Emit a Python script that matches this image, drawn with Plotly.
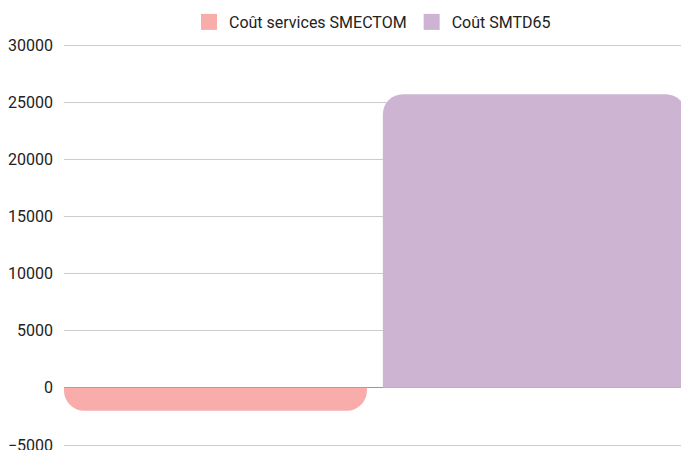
import plotly.graph_objects as go

# values
category = [""]
series_names = ["Coût services SMECTOM", "Coût SMTD65"]
series_values = [[-2000], [25700]]
series_colors = ["#f8adab", "#cdb4d3"]

W, H = 681, 450

fig = go.Figure()
for name, vals, col in zip(series_names, series_values, series_colors):
    fig.add_trace(go.Bar(x=category, y=vals, name=name, marker_color=col,
                         marker_line_width=0, showlegend=False))
    # legend-only entry so the swatch is a big square like the original
    fig.add_trace(go.Scatter(x=[None], y=[None], mode="markers", name=name,
                             marker=dict(symbol="square", size=19, color=col)))

fig.update_layout(
    width=W, height=H,
    barmode="group", bargap=0, bargroupgap=0.05, barcornerradius=20,
    plot_bgcolor="white", paper_bgcolor="white",
    font=dict(family="Roboto", size=16, color="#222"),
    margin=dict(l=64, r=0, t=41, b=1, autoexpand=False),
    legend=dict(orientation="h", x=0.5, xanchor="center",
                y=1 - 22 / H, yref="container", yanchor="middle",
                font=dict(size=16), itemsizing="trace"),
    showlegend=True,
)
fig.update_xaxes(showticklabels=False, showgrid=False, zeroline=False, showline=False,
                 range=[-0.4875, 0.48], automargin=False)
fig.update_yaxes(range=[-5350, 30350], dtick=5000, tick0=0, tickformat="d",
                 gridcolor="#cccccc", zeroline=True, zerolinecolor="#999999",
                 zerolinewidth=1, ticklabelstandoff=10, showline=False,
                 ticklabeloverflow="allow", automargin=False)

# drop the default page margin so the figure fills the window
fig.write_html("out.html", config={"displayModeBar": False},
               post_script="document.body.style.margin='0';"
                           "document.body.style.overflow='hidden';")
